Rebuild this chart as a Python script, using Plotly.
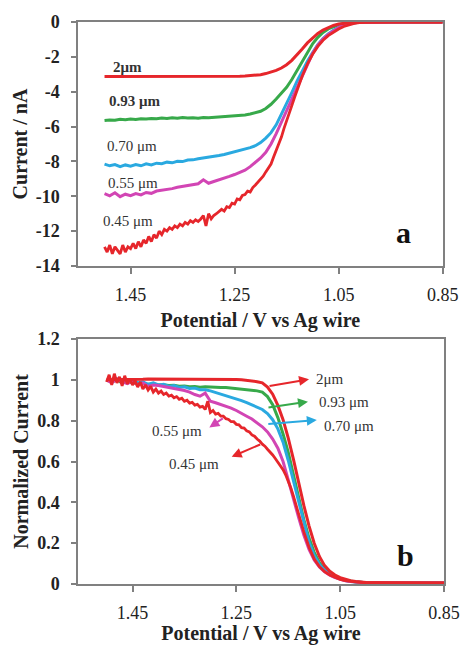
import plotly.graph_objects as go

# ---------------- data ----------------
# shared potential grid (V vs Ag wire)
potential = [1.50, 1.49, 1.48, 1.47, 1.46, 1.45, 1.44, 1.43, 1.42, 1.41,
             1.40, 1.39, 1.38, 1.37, 1.36, 1.35, 1.34, 1.33, 1.32, 1.31,
             1.30, 1.29, 1.28, 1.27, 1.26, 1.25, 1.24, 1.23, 1.22, 1.21,
             1.20, 1.19, 1.18, 1.17, 1.16, 1.15, 1.14, 1.13, 1.12, 1.11,
             1.10, 1.09, 1.08, 1.07, 1.06, 1.05, 1.04, 1.03, 1.02, 1.01,
             1.00, 0.95, 0.90, 0.85]

# finer grid used for the noisy 0.45 um electrode
potential_045 = [1.500, 1.495, 1.490, 1.485, 1.480, 1.475, 1.470, 1.465, 1.460, 1.455,
                 1.450, 1.445, 1.440, 1.435, 1.430, 1.425, 1.420, 1.415, 1.410, 1.405,
                 1.400, 1.395, 1.390, 1.385, 1.380, 1.375, 1.370, 1.365, 1.360, 1.355,
                 1.350, 1.345, 1.340, 1.335, 1.330, 1.325, 1.320, 1.315, 1.310, 1.305,
                 1.300, 1.295, 1.290, 1.285, 1.280, 1.275, 1.270, 1.265, 1.260, 1.255,
                 1.250, 1.245, 1.240, 1.235, 1.230, 1.225, 1.220, 1.215, 1.210, 1.205,
                 1.200,
                 1.195, 1.190, 1.185, 1.180, 1.175, 1.170, 1.165, 1.160, 1.155, 1.150,
                 1.145, 1.140, 1.135, 1.130,
                 1.12, 1.11, 1.10, 1.09, 1.08, 1.07, 1.06, 1.05, 1.04, 1.03, 1.02, 1.01, 1.00,
                 0.95, 0.90, 0.85]

# panel a: current / nA
current_2um = [-3.12, -3.12, -3.13, -3.12, -3.13, -3.13, -3.14, -3.13, -3.14, -3.14,
               -3.14, -3.15, -3.14, -3.15, -3.15, -3.15, -3.14, -3.15, -3.14, -3.14,
               -3.14,
               -3.14, -3.13, -3.13, -3.12, -3.12, -3.11, -3.10, -3.08, -3.06, -3.02,
               -2.96, -2.88, -2.78, -2.64, -2.45, -2.20, -1.90, -1.55, -1.20, -0.90,
               -0.66, -0.46, -0.31, -0.20, -0.12, -0.07, -0.04, -0.02, -0.01, -0.005,
               0, 0, 0]
current_093 = [-5.65, -5.62, -5.64, -5.58, -5.61, -5.57, -5.59, -5.55, -5.57, -5.53,
               -5.55, -5.51, -5.53, -5.49, -5.52, -5.48, -5.51, -5.49, -5.52, -5.48,
               -5.49,
               -5.47, -5.46, -5.44, -5.42, -5.40, -5.37, -5.33, -5.28, -5.21, -5.12,
               -4.96, -4.72, -4.42, -4.10, -3.75, -3.30, -2.80, -2.25, -1.72, -1.25,
               -0.88, -0.60, -0.40, -0.26, -0.16, -0.09, -0.05, -0.025, -0.01, -0.005,
               0, 0, 0]
current_070 = [-8.15, -8.25, -8.18, -8.30, -8.20, -8.27, -8.18, -8.25, -8.14, -8.20,
               -8.10, -8.13, -8.04, -8.08, -7.99, -8.01, -7.92, -7.91, -7.85, -7.81,
               -7.78,
               -7.71, -7.66, -7.60, -7.53, -7.45, -7.39, -7.30, -7.21, -7.10, -6.92,
               -6.66, -6.35, -5.90, -5.30, -4.70, -4.05, -3.40, -2.80, -2.25, -1.75,
               -1.30, -0.95, -0.68, -0.47, -0.30, -0.17, -0.09, -0.04, -0.02, -0.01,
               0, 0, 0]
current_055 = [-9.85, -9.97, -9.80, -10.02, -9.88, -9.96, -9.84, -9.92, -9.78, -9.83,
               -9.70, -9.66, -9.58, -9.56, -9.48, -9.44, -9.38, -9.36, -9.28, -9.05,
               -9.25,
               -9.15, -9.06, -8.98, -8.86, -8.75, -8.62, -8.50, -8.30, -8.07, -7.80,
               -7.48, -7.00, -6.40, -5.75, -5.10, -4.45, -3.75, -3.10, -2.40, -1.80,
               -1.33, -0.98, -0.71, -0.50, -0.32, -0.18, -0.09, -0.04, -0.02, -0.01,
               0, 0, 0]
current_045 = [-12.9, -13.2, -12.8, -13.3, -12.9, -13.1, -13.3, -12.8, -13.2, -12.9,
               -13.0, -12.7, -13.0, -12.6, -12.9, -12.5, -12.7, -12.3, -12.6, -12.2,
               -12.4, -12.0, -12.2, -11.9, -12.0, -11.8, -11.9, -11.7, -11.8, -11.6,
               -11.7, -11.5, -11.6, -11.4, -11.5, -11.35, -11.45, -11.3, -11.1, -11.7,
               -11.0, -11.3, -11.1, -11.0, -10.9, -10.75, -10.85, -10.6, -10.65, -10.4,
               -10.45, -10.15, -10.2, -9.95, -9.9, -9.7, -9.75, -9.5, -9.35, -9.2,
               -9.0,
               -8.85, -8.6, -8.4, -8.15, -7.75, -7.4, -6.95, -6.6, -6.1, -5.7,
               -5.2, -4.8, -4.35, -3.9,
               -3.1, -2.4, -1.85, -1.4, -1.05, -0.78, -0.57, -0.4, -0.26, -0.15, -0.08, -0.04, -0.02,
               0, 0, 0]

# panel b: normalized current
norm_2um = [1.0, 1.0, 1.0, 1.0, 1.0, 1.0, 1.002, 1.003, 1.004, 1.004,
            1.005, 1.005, 1.005, 1.005, 1.005, 1.005, 1.005, 1.005, 1.005, 1.005,
            1.005,
            1.005, 1.005, 1.004, 1.003, 1.002, 1.0, 0.998, 0.995, 0.991, 0.985,
            0.965, 0.93, 0.875, 0.805, 0.715, 0.61, 0.495, 0.385, 0.285, 0.2,
            0.135, 0.09, 0.062, 0.044, 0.031, 0.022, 0.016, 0.012, 0.009, 0.007,
            0.006, 0.005, 0.005]
norm_093 = [1.0, 0.99, 1.0, 0.985, 0.99, 0.985, 0.982, 0.984, 0.978, 0.98,
            0.975, 0.976, 0.972, 0.973, 0.969, 0.97, 0.966, 0.967, 0.964, 0.966,
            0.964,
            0.965, 0.962, 0.963, 0.96, 0.958, 0.956, 0.953, 0.95, 0.946, 0.94,
            0.918, 0.878, 0.815, 0.735, 0.645, 0.535, 0.425, 0.315, 0.225, 0.155,
            0.105, 0.073, 0.052, 0.037, 0.026, 0.018, 0.013, 0.01, 0.008, 0.006,
            0.005, 0.005, 0.005]
norm_070 = [1.0, 0.99, 1.005, 0.993, 0.99, 1.0, 0.985, 0.99, 0.978, 0.985,
            0.975, 0.978, 0.968, 0.972, 0.963, 0.966, 0.958, 0.96, 0.952, 0.951,
            0.946,
            0.938, 0.932, 0.925, 0.915, 0.907, 0.898, 0.888, 0.878, 0.868, 0.855,
            0.835, 0.805, 0.76, 0.695, 0.605, 0.505, 0.4, 0.295, 0.205, 0.14,
            0.095, 0.068, 0.048, 0.034, 0.024, 0.017, 0.012, 0.009, 0.007, 0.006,
            0.005, 0.005, 0.005]
norm_055 = [1.0, 0.985, 1.005, 0.99, 0.982, 0.995, 0.975, 0.985, 0.968, 0.975,
            0.972, 0.968, 0.962, 0.96, 0.953, 0.948, 0.94, 0.928, 0.92, 0.935,
            0.895,
            0.888, 0.88, 0.872, 0.862, 0.85, 0.838, 0.822, 0.808, 0.79, 0.77,
            0.745, 0.71, 0.665, 0.6, 0.51, 0.415, 0.325, 0.24, 0.17, 0.118,
            0.083, 0.06, 0.043, 0.031, 0.022, 0.016, 0.012, 0.009, 0.007, 0.006,
            0.005, 0.005, 0.005]
norm_045 = [0.99, 1.025, 0.975, 1.03, 0.985, 1.015, 0.97, 1.02, 0.98, 1.005,
            0.975, 0.995, 0.965, 0.99, 0.955, 0.975, 0.95, 0.968, 0.94, 0.955,
            0.935, 0.945, 0.928, 0.935, 0.92, 0.925, 0.912, 0.918, 0.905, 0.91,
            0.895, 0.9, 0.886, 0.89, 0.876, 0.88, 0.866, 0.87, 0.855, 0.895,
            0.84, 0.85, 0.832, 0.836, 0.822, 0.822, 0.81, 0.806, 0.795, 0.795,
            0.782, 0.78, 0.766, 0.764, 0.75, 0.745, 0.73, 0.724, 0.71, 0.7,
            0.685,
            0.675, 0.66, 0.648, 0.632, 0.615, 0.598, 0.58, 0.56, 0.535, 0.505,
            0.47, 0.43, 0.385, 0.34,
            0.255, 0.18, 0.122, 0.085, 0.061, 0.044, 0.031, 0.022, 0.016, 0.012, 0.01, 0.008, 0.007,
            0.005, 0.005, 0.005]

size_labels = ["2μm", "0.93 μm", "0.70 μm", "0.55 μm", "0.45 μm"]
x_tickvals = [1.45, 1.25, 1.05, 0.85]
x_ticktext = ["1.45", "1.25", "1.05", "0.85"]
ya_tickvals = [0, -2, -4, -6, -8, -10, -12, -14]
ya_ticktext = ["0", "-2", "-4", "-6", "-8", "-10", "-12", "-14"]
yb_tickvals = [0, 0.2, 0.4, 0.6, 0.8, 1.0, 1.2]
yb_ticktext = ["0", "0.2", "0.4", "0.6", "0.8", "1", "1.2"]

assert len(potential) == len(current_2um) == len(current_093) == len(current_070) == len(current_055)
assert len(potential) == len(norm_2um) == len(norm_093) == len(norm_070) == len(norm_055)
assert len(potential_045) == len(current_045) == len(norm_045)

# ---------------- styling ----------------
RED = "#e6262b"
GREEN = "#37a94a"
BLUE = "#2aa9e0"
MAGENTA = "#d245b4"
SERIF = "Liberation Serif"
TXT = "#222222"
AX = "#808080"

fig = go.Figure()

top_series = [
    (potential, current_093, GREEN, size_labels[1], 3),
    (potential, current_070, BLUE, size_labels[2], 3),
    (potential, current_055, MAGENTA, size_labels[3], 3),
    (potential_045, current_045, RED, size_labels[4], 2.8),
    (potential, current_2um, RED, size_labels[0], 3),
]
for xs, ys, col, name, w in top_series:
    fig.add_trace(go.Scatter(x=xs, y=ys, mode="lines", name=name,
                             line=dict(color=col, width=w),
                             xaxis="x", yaxis="y", showlegend=False))

bot_series = [
    (potential, norm_093, GREEN, size_labels[1], 3),
    (potential, norm_070, BLUE, size_labels[2], 3),
    (potential, norm_055, MAGENTA, size_labels[3], 3),
    (potential_045, norm_045, RED, size_labels[4], 2.8),
    (potential, norm_2um, RED, size_labels[0], 3),
]
for xs, ys, col, name, w in bot_series:
    fig.add_trace(go.Scatter(x=xs, y=ys, mode="lines", name=name,
                             line=dict(color=col, width=w),
                             xaxis="x2", yaxis="y2", showlegend=False))

xcommon = dict(range=[1.551, 0.85], tickvals=x_tickvals, ticktext=x_ticktext,
               showgrid=False, zeroline=False, showline=True, linecolor=AX,
               linewidth=1.5, mirror=True, ticks="outside", ticklen=6,
               tickcolor=AX, tickwidth=1.5, ticklabelstandoff=6,
               tickfont=dict(family=SERIF, size=18, color=TXT),
               title=dict(text="<b>Potential / V vs Ag wire</b>", standoff=9,
                          font=dict(family=SERIF, size=20, color=TXT)),
               automargin=False)
ycommon = dict(showgrid=False, zeroline=False, showline=True, linecolor=AX,
               linewidth=1.5, mirror=True, ticks="outside", ticklen=5,
               tickcolor=AX, tickwidth=1.5, ticklabelstandoff=8,
               tickfont=dict(family=SERIF, size=18, color=TXT, weight="bold"),
               automargin=False)

fig.update_layout(
    width=461, height=645,
    margin=dict(l=78, r=17, t=22, b=61),
    paper_bgcolor="white", plot_bgcolor="white",
    font=dict(family=SERIF),
    xaxis=dict(domain=[0, 0.9964], anchor="y", **xcommon),
    yaxis=dict(domain=[0.5658, 1], anchor="x", range=[-14, 0],
               tickvals=ya_tickvals, ticktext=ya_ticktext,
               title=dict(text="<b>Current / nA</b>", standoff=3,
                          font=dict(family=SERIF, size=20, color=TXT)),
               **ycommon),
    xaxis2=dict(domain=[0, 1], anchor="y2", **{**xcommon, "range": [1.555, 0.85]}),
    yaxis2=dict(domain=[0, 0.4359], anchor="x2", range=[0, 1.2],
                tickvals=yb_tickvals, ticktext=yb_ticktext,
                title=dict(text="<b>Normalized Current</b>", standoff=3,
                           font=dict(family=SERIF, size=20, color=TXT)),
                **ycommon),
)

ann = []
lab_font = dict(family=SERIF, size=15, color="#333333")
# panel a labels
top_lab = [(1.456, -2.58, "<b>2μm</b>"), (1.442, -4.53, "<b>0.93 μm</b>"),
           (1.448, -7.12, "0.70 μm"), (1.446, -9.24, "0.55 μm"), (1.454, -11.42, "0.45 μm")]
for x, y, t in top_lab:
    ann.append(dict(x=x, y=y, xref="x", yref="y", text=t, showarrow=False,
                    xanchor="center", yanchor="middle", font=lab_font))
ann.append(dict(x=0.925, y=-12.05, xref="x", yref="y", text="<b>a</b>", showarrow=False,
                font=dict(family=SERIF, size=30, color="#111111")))
# panel b labels
bot_lab = [(1.070, 1.004, "2μm"), (1.043, 0.891, "0.93 μm"),
           (1.033, 0.774, "0.70 μm"),
           (1.364, 0.749, "0.55 μm"), (1.331, 0.588, "0.45 μm")]
for x, y, t in bot_lab:
    ann.append(dict(x=x, y=y, xref="x2", yref="y2", text=t, showarrow=False,
                    xanchor="center", yanchor="middle", font=lab_font))
ann.append(dict(x=0.925, y=0.142, xref="x2", yref="y2", text="<b>b</b>", showarrow=False,
                font=dict(family=SERIF, size=30, color="#111111")))
# arrows (head at x,y ; tail offset ax,ay in px)
arrows = [(1.110, 1.003, -41, 7, RED), (1.112, 0.893, -41, 6, GREEN),
          (1.095, 0.803, -50, 4, BLUE), (1.302, 0.767, 15, -10, MAGENTA),
          (1.259, 0.623, 30, -13, RED)]
for x, y, axp, ayp, col in arrows:
    ann.append(dict(x=x, y=y, xref="x2", yref="y2", ax=axp, ay=ayp, text="",
                    showarrow=True, arrowhead=2, arrowsize=1, arrowwidth=2,
                    arrowcolor=col))
fig.update_layout(annotations=ann)

fig.write_html("out.html", config={"displayModeBar": False},
               post_script="document.body.style.margin='0px';document.body.style.padding='0px';")
